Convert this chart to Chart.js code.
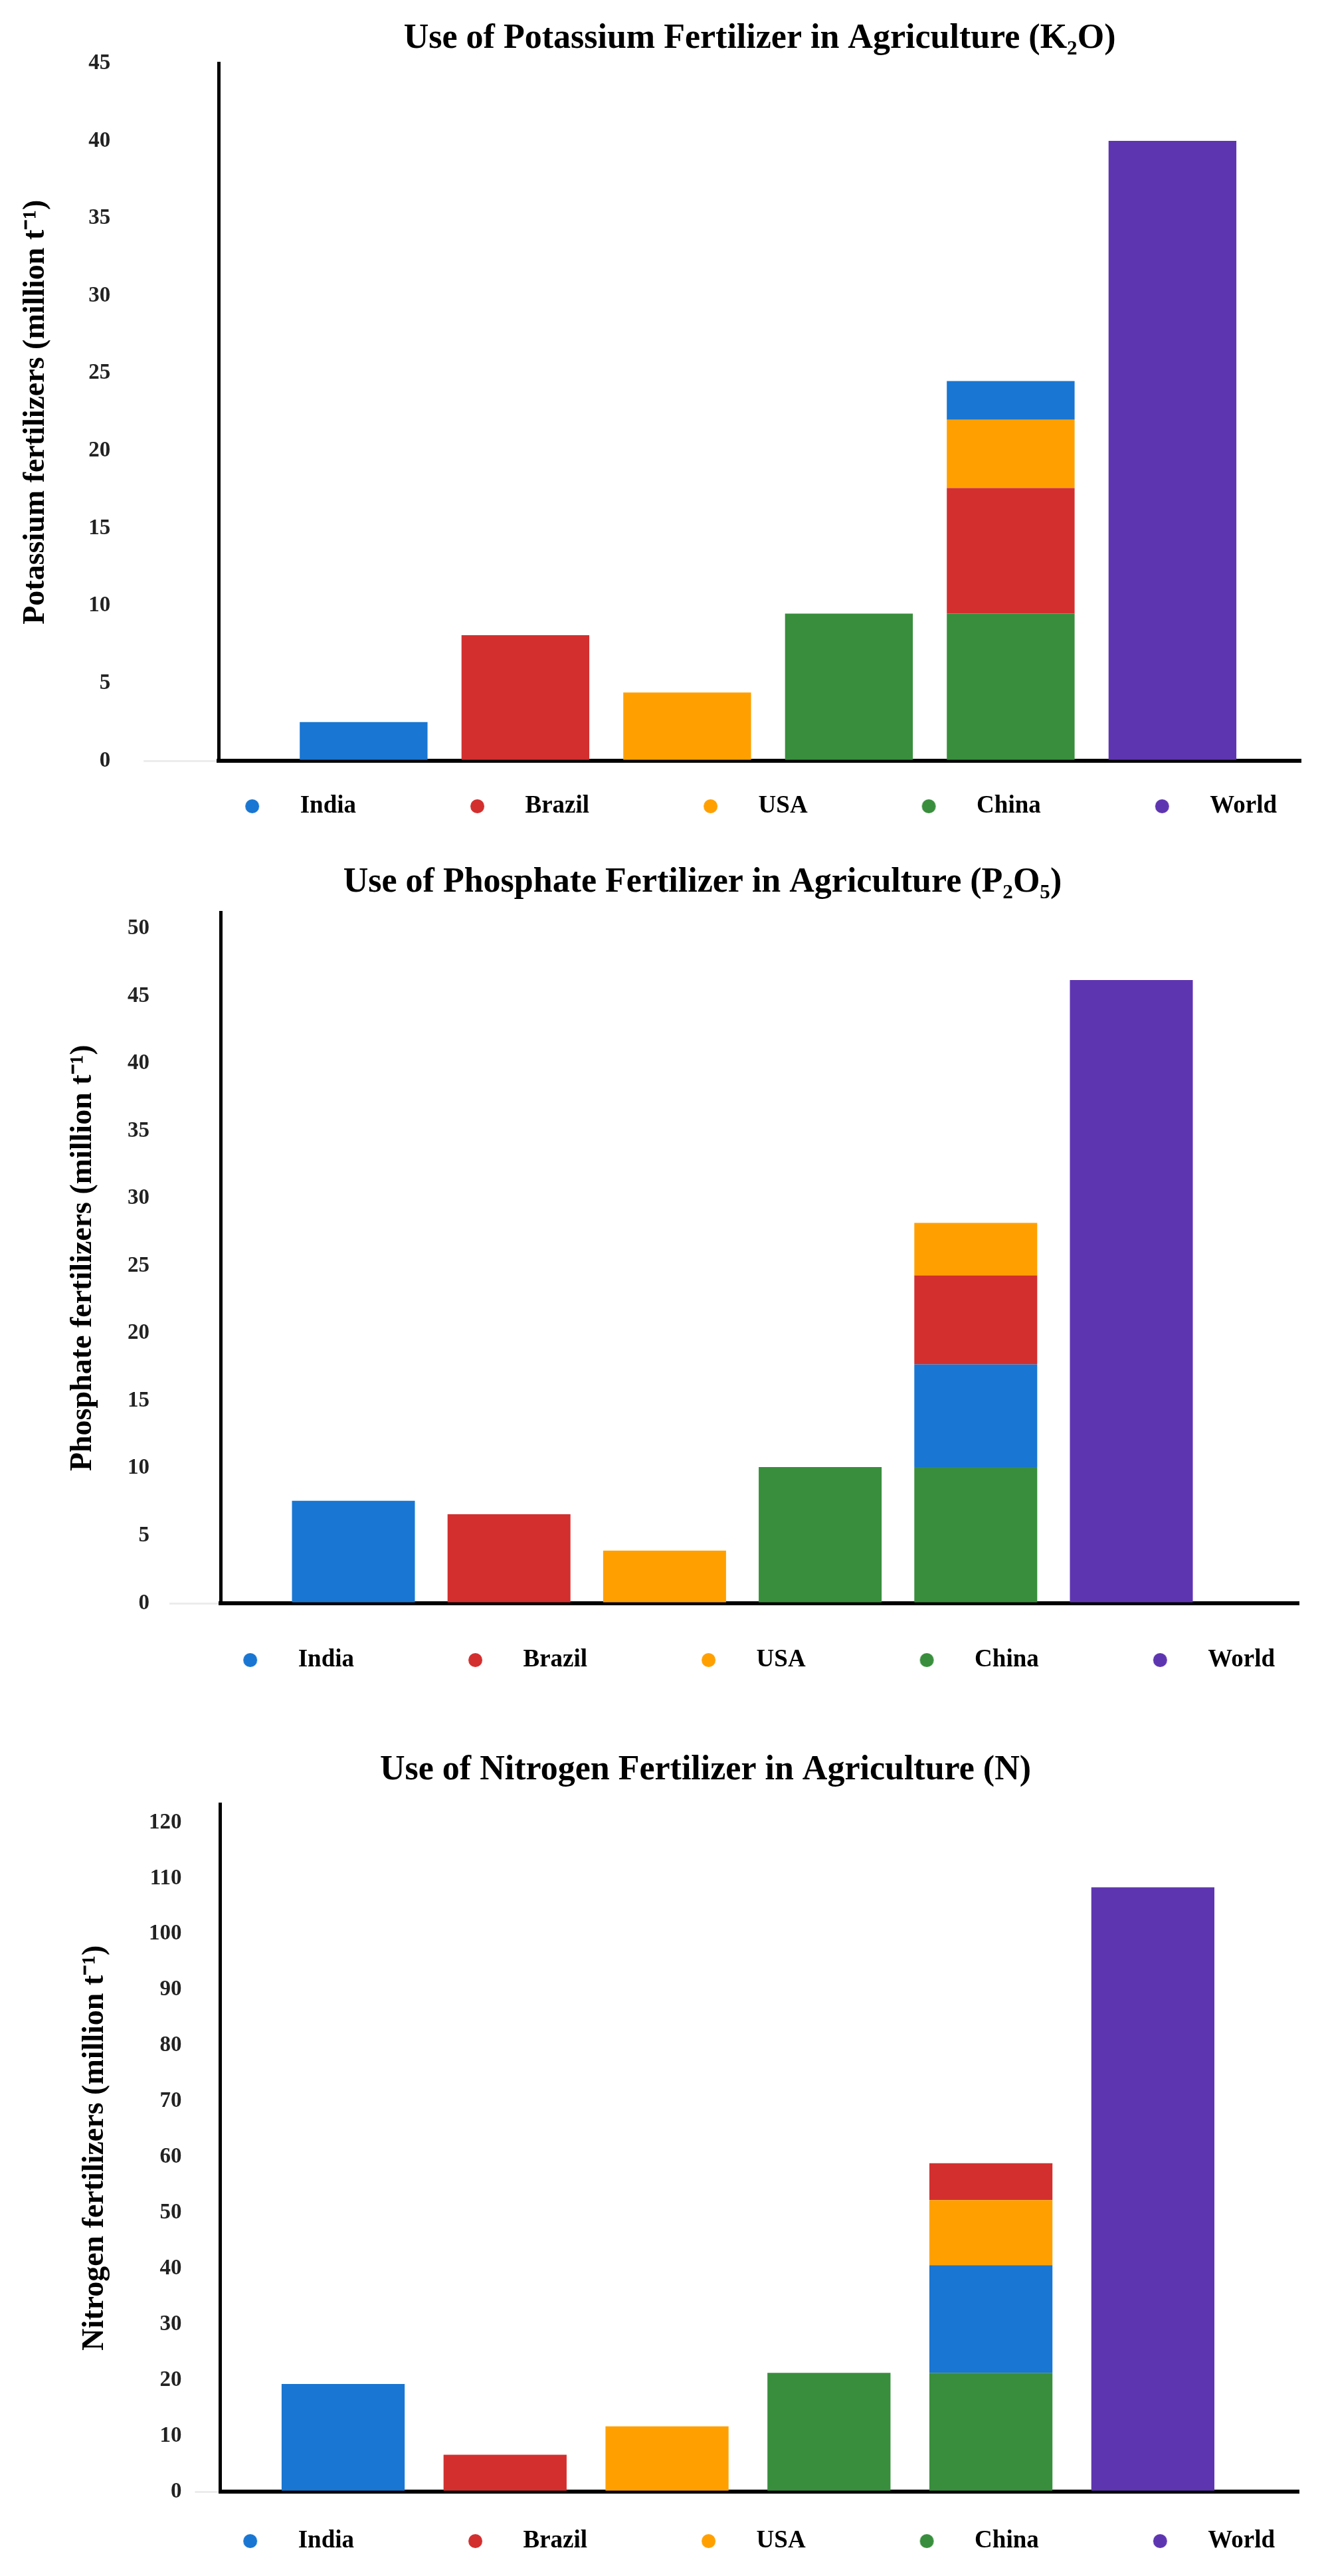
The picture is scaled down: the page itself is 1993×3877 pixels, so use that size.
<!DOCTYPE html>
<html>
<head>
<meta charset="utf-8">
<title>Fertilizer use in agriculture</title>
<script src="https://cdn.jsdelivr.net/npm/chart.js@4.4.1/dist/chart.umd.min.js"></script>
<style>
  html, body { margin: 0; padding: 0; background: #fff; }
  canvas { display: block; }
</style>
</head>
<body>
<canvas id="potassium" width="1993" height="1242"></canvas>
<canvas id="phosphate" width="1993" height="1285"></canvas>
<canvas id="nitrogen" width="1993" height="1326"></canvas>
<script>
// Countries shown in the legend (legend order)
const countries = ['India', 'Brazil', 'USA', 'China', 'World'];
const colors = ['#1976D2', '#D32F2F', '#FFA000', '#388E3C', '#5E35B1'];

// Bar slots along the x axis; 'Stack' is the stacked China+others column
const barSlots = ['India', 'Brazil', 'USA', 'China', 'Stack', 'World'];

// Values in million t, same order as countries
const potassium = [2.5, 8.1, 4.4, 9.5, 40.0];
const phosphate = [7.6, 6.6, 3.9, 10.1, 46.2];
const nitrogen = [19.3, 6.6, 11.7, 21.3, 108.4];

// Order of segments in the stacked column, bottom to top
const potassiumStack = ['China', 'Brazil', 'USA', 'India'];
const phosphateStack = ['China', 'India', 'Brazil', 'USA'];
const nitrogenStack = ['China', 'India', 'USA', 'Brazil'];

// y axis ticks
const potassiumTicks = { max: 45, step: 5 };
const phosphateTicks = { max: 50, step: 5 };
const nitrogenTicks = { max: 120, step: 10 };

const FONT = "'Liberation Serif', 'Times New Roman', serif";

// legend marker: a dot sitting to the right of the box centre
function legendDot(color, offset) {
  const r = 10.5;
  const c = document.createElement('canvas');
  c.width = Math.ceil(2 * (offset + r + 2));
  c.height = Math.ceil(2 * r + 4);
  const g = c.getContext('2d');
  g.fillStyle = color;
  g.beginPath();
  g.arc(c.width / 2 + offset, c.height / 2, r, 0, Math.PI * 2);
  g.fill();
  return c;
}
const dots = {};
countries.forEach((name, i) => { dots[name] = legendDot(colors[i], 46.5); });

function buildDatasets(values, stackOrder) {
  return stackOrder.concat(['World']).map(name => {
    const i = countries.indexOf(name);
    const points = [{ x: barSlots.indexOf(name), y: values[i] }];
    if (name !== 'World') points.push({ x: barSlots.indexOf('Stack'), y: values[i] });
    return {
      label: name,
      data: points,
      backgroundColor: colors[i],
      borderWidth: 0
    };
  });
}

function makeChart(id, cfg) {
  const ctx = document.getElementById(id).getContext('2d');
  return new Chart(ctx, {
    type: 'bar',
    data: { datasets: buildDatasets(cfg.values, cfg.stack) },
    options: {
      responsive: false,
      animation: false,
      categoryPercentage: cfg.barPct,
      barPercentage: 1,
      layout: { padding: { left: cfg.padLeft, right: cfg.padRight, top: 0, bottom: 0 } },
      plugins: {
        tooltip: { enabled: false },
        title: {
          display: true,
          text: cfg.title,
          color: '#000',
          fullSize: cfg.titleFull,
          font: { family: FONT, size: 52, weight: 'bold' },
          padding: { top: cfg.titleTop, bottom: cfg.titleBottom }
        },
        legend: {
          position: 'bottom',
          align: 'end',
          labels: {
            usePointStyle: true,
            pointStyleWidth: 200,
            padding: 36,
            color: '#000',
            font: { family: FONT, size: 37, weight: 'bold' },
            sort: (a, b) => countries.indexOf(a.text) - countries.indexOf(b.text),
            generateLabels: chart =>
              Chart.defaults.plugins.legend.labels.generateLabels(chart)
                .map(item => Object.assign(item, { pointStyle: dots[item.text] }))
          }
        }
      },
      scales: {
        x: {
          type: 'linear',
          stacked: true,
          offset: false,
          min: cfg.xMin,
          max: cfg.xMax,
          afterBuildTicks: axis => { axis.ticks = barSlots.map((s, i) => ({ value: i })); },
          ticks: { display: false },
          grid: { display: false, offset: false, drawTicks: true, tickLength: cfg.legendGap },
          border: { display: true, color: '#000', width: 6 }
        },
        y: {
          stacked: true,
          min: 0,
          max: cfg.yMax,
          ticks: {
            stepSize: cfg.ticks.step,
            includeBounds: false,
            padding: cfg.tickPad,
            color: '#222',
            font: { family: FONT, size: 33, weight: 'bold' }
          },
          grid: {
            drawOnChartArea: false,
            drawTicks: true,
            tickLength: cfg.tickLen,
            lineWidth: 3,
            color: c => (c.tick && c.tick.value === 0) ? '#ececec' : 'rgba(0,0,0,0)'
          },
          border: { display: true, color: '#000', width: 5 },
          title: {
            display: true,
            text: cfg.yTitle,
            color: '#000',
            font: { family: FONT, size: 46, weight: 'bold' },
            padding: { top: cfg.yTitleTop, bottom: cfg.yTitleBottom }
          }
        }
      }
    }
  });
}

makeChart('potassium', {
  values: potassium, stack: potassiumStack, ticks: potassiumTicks, yMax: 45,
  title: 'Use of Potassium Fertilizer in Agriculture (K\u2082O)',
  yTitle: 'Potassium fertilizers (million t\u207B\u00B9)',
  titleFull: false, titleTop: 27, titleBottom: 6,
  padLeft: 10, padRight: 35, yTitleTop: 17, yTitleBottom: 1,
  tickPad: 50, tickLen: 113, legendGap: 14,
  xMin: -0.896, xMax: 5.793, barPct: 0.79
});

makeChart('phosphate', {
  values: phosphate, stack: phosphateStack, ticks: phosphateTicks, yMax: 51.2,
  title: 'Use of Phosphate Fertilizer in Agriculture (P\u2082O\u2085)',
  yTitle: 'Phosphate fertilizers (million t\u207B\u00B9)',
  titleFull: true, titleTop: 55, titleBottom: 14,
  padLeft: 160, padRight: 38, yTitleTop: -62.6, yTitleBottom: 9.4,
  tickPad: 30, tickLen: 77, legendGap: 31,
  xMin: -0.854, xMax: 6.076, barPct: 0.79
});

makeChart('nitrogen', {
  values: nitrogen, stack: nitrogenStack, ticks: nitrogenTicks, yMax: 123.3,
  title: 'Use of Nitrogen Fertilizer in Agriculture (N)',
  yTitle: 'Nitrogen fertilizers (million t\u207B\u00B9)',
  titleFull: true, titleTop: 106, titleBottom: 20,
  padLeft: 169, padRight: 38, yTitleTop: -53.6, yTitleBottom: 33.4,
  tickPad: 20, tickLen: 38, legendGap: 20,
  xMin: -0.759, xMax: 5.901, barPct: 0.76
});
</script>
</body>
</html>
